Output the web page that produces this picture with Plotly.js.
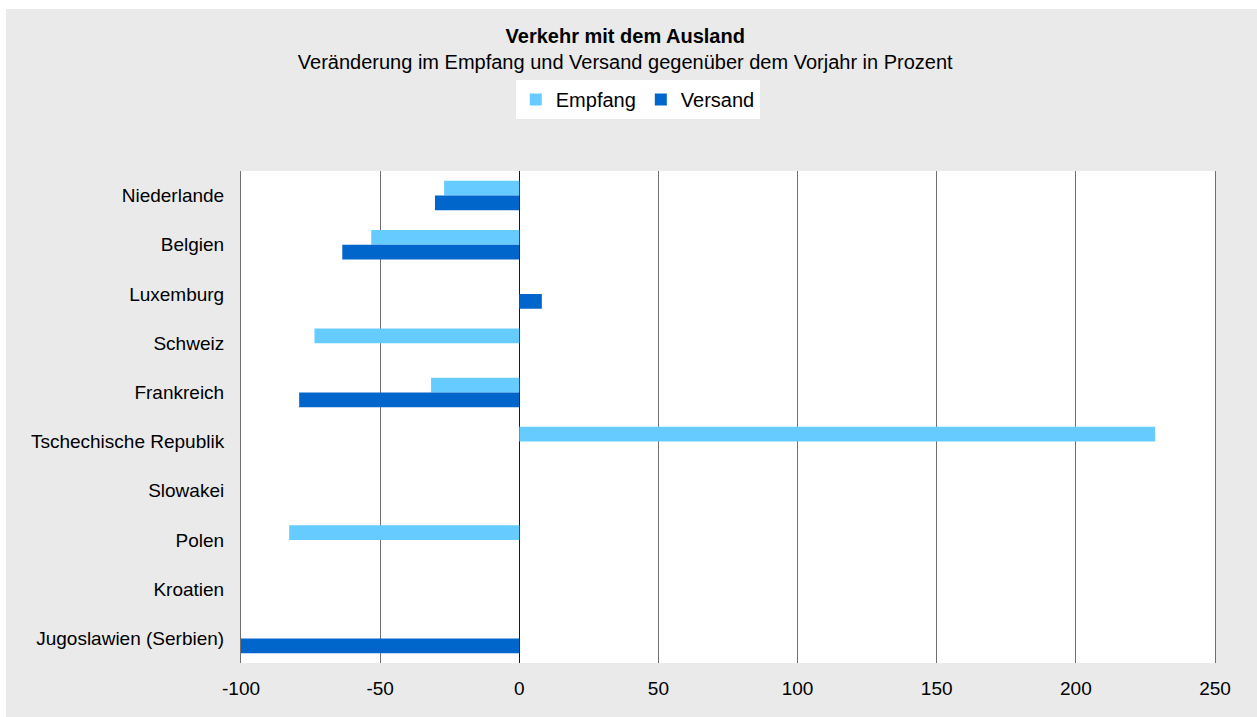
<!DOCTYPE html>
<html>
<head>
<meta charset="utf-8">
<script src="https://cdn.plot.ly/plotly-3.0.1.min.js"></script>
<style>
  body { margin: 0; background: #ffffff; }
  #chart { position: absolute; left: 6px; top: 9px; width: 1251px; height: 708px; }
</style>
</head>
<body>
<div id="chart"></div>
<script>
// countries, top to bottom
var Countries = ["Niederlande", "Belgien", "Luxemburg", "Schweiz", "Frankreich",
  "Tschechische Republik", "Slowakei", "Polen", "Kroatien", "Jugoslawien (Serbien)"];

// change vs previous year in percent (null = no bar)
var Empfang = [-27.0, -53.2, null, -73.6, -31.7, 228.5, null, -82.7, null, null];
var Versand = [-30.3, -63.6, 8.1, null, -79.1, null, null, null, null, -100];

var xTicks = [-100, -50, 0, 50, 100, 150, 200, 250];

var fontFam = "Liberation Sans, Arial, sans-serif";

var traceEmpfang = {
  y: Countries,
  x: Empfang,
  name: "Empfang",
  type: "bar",
  orientation: "h",
  marker: {color: "#66CCFF"}
};

var traceVersand = {
  y: Countries,
  x: Versand,
  name: "Versand",
  type: "bar",
  orientation: "h",
  marker: {color: "#0066CC"}
};

var data = [traceEmpfang, traceVersand];

var layout = {
  width: 1251,
  height: 708,
  paper_bgcolor: "#EAEAEA",
  plot_bgcolor: "#FFFFFF",
  font: {family: fontFam, size: 19, color: "#000000"},
  margin: {l: 235, r: 42, t: 162, b: 54},
  barmode: "group",
  bargap: 0.4,
  bargroupgap: 0,
  title: {
    text: "<b>Verkehr mit dem Ausland</b><br>Veränderung im Empfang und Versand gegenüber dem Vorjahr in Prozent",
    font: {family: fontFam, size: 20, color: "#000000"},
    x: 0.495,
    xref: "container",
    xanchor: "center",
    y: 1 - 34 / 708,
    yref: "container",
    yanchor: "top"
  },
  showlegend: true,
  legend: {
    orientation: "h",
    xref: "container",
    yref: "container",
    x: 0.505,
    xanchor: "center",
    y: 1 - 71 / 708,
    yanchor: "top",
    bgcolor: "#FFFFFF",
    font: {family: fontFam, size: 20, color: "#000000"},
    itemwidth: 30,
    traceorder: "normal"
  },
  xaxis: {
    range: [-100, 250],
    tickvals: xTicks,
    ticktext: xTicks.map(String),
    showgrid: true,
    gridcolor: "#707070",
    gridwidth: 1,
    zeroline: true,
    zerolinecolor: "#1A1A1A",
    zerolinewidth: 1,
    showline: false,
    ticks: "outside",
    ticklen: 8,
    tickcolor: "rgba(0,0,0,0)",
    tickfont: {family: fontFam, size: 19, color: "#000000"},
    fixedrange: true
  },
  yaxis: {
    type: "category",
    categoryorder: "array",
    categoryarray: Countries,
    autorange: "reversed",
    showgrid: false,
    showline: true,
    mirror: true,
    linecolor: "#707070",
    linewidth: 1,
    ticks: "outside",
    ticklen: 12,
    tickcolor: "rgba(0,0,0,0)",
    tickfont: {family: fontFam, size: 19, color: "#000000"},
    fixedrange: true
  }
};

Plotly.newPlot("chart", data, layout, {displayModeBar: false, staticPlot: true});
</script>
</body>
</html>
